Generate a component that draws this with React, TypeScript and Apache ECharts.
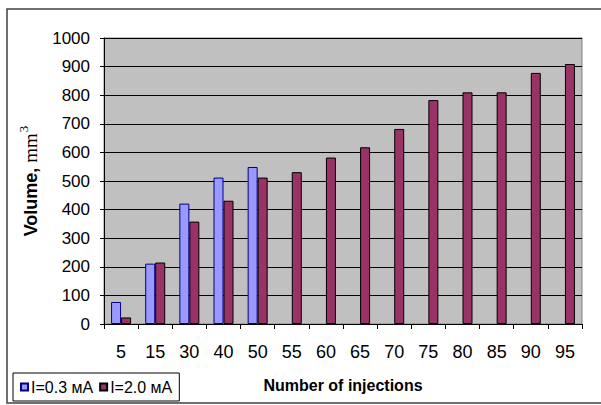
import React, { useEffect, useRef } from "react";
import * as echarts from "echarts";

const categories = ["5", "15", "30", "40", "50", "55", "60", "65", "70", "75", "80", "85", "90", "95"];
const lowCurrent: (number | null)[] = [77, 211, 421, 512, 549, null, null, null, null, null, null, null, null, null];
const highCurrent: number[] = [23, 215, 358, 431, 512, 531, 582, 618, 682, 783, 810, 810, 878, 909];
const seriesNames = ["I=0.3 мА", "I=2.0 мА"];
const yTicks = { min: 0, max: 1000, interval: 100 };

const FONT = "'Liberation Sans', Arial, sans-serif";
const SERIF = "'Liberation Serif', 'Times New Roman', serif";

export default function App() {
  const ref = useRef<HTMLDivElement>(null);
  useEffect(() => {
    if (!ref.current) return;
    const chart = echarts.init(ref.current, null, { renderer: "svg" });
    chart.setOption({
      animation: false,
      backgroundColor: "#ffffff",
      textStyle: { fontFamily: FONT },
      graphic: [
        {
          type: "rect",
          shape: { x: 7, y: 9, width: 600, height: 394 },
          style: { fill: "none", stroke: "#404040", lineWidth: 1.5 },
          silent: true,
          z: -1,
        },
      ],
      legend: {
        left: 13,
        top: 373,
        orient: "horizontal",
        borderColor: "#000",
        borderWidth: 1,
        padding: [6, 7],
        itemWidth: 7,
        itemHeight: 7,
        itemGap: 6,
        icon: "rect",
        textStyle: { fontFamily: FONT, fontSize: 16, color: "#000", padding: [0, 0, 0, -2] },
        data: seriesNames,
      },
      grid: {
        left: 104,
        right: 19,
        top: 38,
        bottom: 81,
        show: true,
        backgroundColor: "#C0C0C0",
        borderColor: "#808080",
        borderWidth: 1,
      },
      xAxis: {
        type: "category",
        data: categories,
        boundaryGap: true,
        axisLine: { lineStyle: { color: "#000", width: 1 } },
        axisTick: { show: true, length: 5, lineStyle: { color: "#000" } },
        axisLabel: { color: "#000", fontSize: 18, fontFamily: FONT, margin: 19, interval: 0 },
        name: "Number of injections",
        nameLocation: "middle",
        nameGap: 53,
        nameTextStyle: { color: "#000", fontSize: 16, fontWeight: "bold", fontFamily: FONT },
      },
      yAxis: {
        type: "value",
        min: yTicks.min,
        max: yTicks.max,
        interval: yTicks.interval,
        axisLine: { show: true, lineStyle: { color: "#000", width: 1 } },
        axisTick: { show: true, length: 4, lineStyle: { color: "#000" } },
        axisLabel: {
          color: "#000",
          fontSize: 17,
          fontFamily: FONT,
          margin: 14,
          formatter: (v: number) => String(v),
        },
        splitLine: { show: true, lineStyle: { color: "#000", width: 1 } },
        name: "{b|Volume, }{m|mm}{s|3}",
        nameLocation: "middle",
        nameRotate: 90,
        nameGap: 60,
        nameTextStyle: {
          color: "#000",
          rich: {
            b: { fontSize: 18, fontWeight: "bold", fontFamily: FONT, color: "#000" },
            m: { fontSize: 19, fontFamily: SERIF, color: "#000" },
            s: { fontSize: 13, fontFamily: SERIF, color: "#000", verticalAlign: "top", padding: [0, 0, 14, 1] },
          },
        },
      },
      series: [
        {
          name: seriesNames[0],
          type: "bar",
          data: lowCurrent,
          barWidth: 10,
          barGap: "0%",
          itemStyle: { color: "#9999FF", borderColor: "#000080", borderWidth: 1 },
        },
        {
          name: seriesNames[1],
          type: "bar",
          data: highCurrent,
          barWidth: 10,
          barGap: "0%",
          itemStyle: { color: "#993366", borderColor: "#000", borderWidth: 1 },
        },
      ],
    });
    return () => chart.dispose();
  }, []);
  return (
    <div
      ref={ref}
      style={{ position: "absolute", left: 0, top: 0, width: 601, height: 405, background: "#fff" }}
    />
  );
}
